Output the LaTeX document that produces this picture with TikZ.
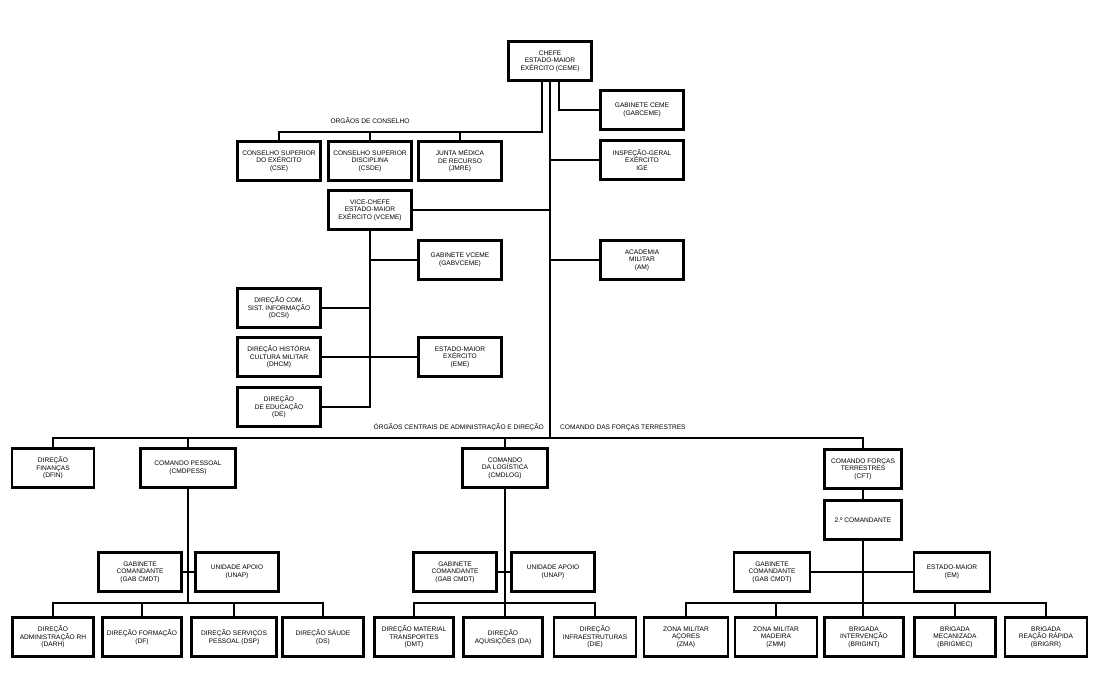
\documentclass[tikz,border=0pt]{standalone}
\usepackage{fontspec}
\setmainfont{Liberation Sans}
\usetikzlibrary{positioning}
\tikzset{box/.style={draw, line width=2.3pt, align=center, inner sep=0pt,
    minimum width=83pt, minimum height=39pt, font=\fontsize{6.6}{7.6}\selectfont},
  link/.style={line width=2pt},
  lbl/.style={font=\fontsize{6.6}{7.6}\selectfont, inner sep=0pt}
}
\begin{document}
\begin{tikzpicture}[x=1pt,y=-1pt]
\useasboundingbox (0,0) rectangle (1100,685);
% Chefe
\node[box] (ceme) at (550,61) {CHEFE\\ESTADO-MAIOR\\EXÉRCITO (CEME)};
\node[box] (gabceme) at (642,110) {GABINETE CEME\\(GABCEME)};
\node[box] (ige) at (642,160) {INSPEÇÃO-GERAL\\EXÉRCITO\\IGE};
\node[box] (am) at (642,260) {ACADEMIA\\MILITAR\\(AM)};
% Orgaos de conselho
\node[box] (cse) at (279,161) {CONSELHO SUPERIOR\\DO EXÉRCITO\\(CSE)};
\node[box] (csde) at (370,161) {CONSELHO SUPERIOR\\DISCIPLINA\\(CSDE)};
\node[box] (jmre) at (460,161) {JUNTA MÉDICA\\DE RECURSO\\(JMRE)};
\node[lbl] (conslbl) at (370,121) {ORGÃOS DE CONSELHO};
% Vice-chefe
\node[box] (vceme) at (370,210) {VICE-CHEFE\\ESTADO-MAIOR\\EXÉRCITO (VCEME)};
\node[box] (gabvceme) at (460,260) {GABINETE VCEME\\(GABVCEME)};
\node[box] (dcsi) at (279,308) {DIREÇÃO COM.\\SIST. INFORMAÇÃO\\(DCSI)};
\node[box] (dhcm) at (279,357) {DIREÇÃO HISTÓRIA\\CULTURA MILITAR\\(DHCM)};
\node[box] (eme) at (460,357) {ESTADO-MAIOR\\EXÉRCITO\\(EME)};
\node[box] (de) at (279,407) {DIREÇÃO\\DE EDUCAÇÃO\\(DE)};
\node[lbl, anchor=base east] (ocadlbl) at (544,429) {ÓRGÃOS CENTRAIS DE ADMINISTRAÇÃO E DIREÇÃO};
\node[lbl, anchor=base west] (cftlbl) at (560,429) {COMANDO DAS FORÇAS TERRESTRES};
% Nivel intermedio
\node[box, minimum width=82pt] (dfin) at (53,468) {DIREÇÃO\\FINANÇAS\\(DFIN)};
\node[box, minimum width=95pt] (cmdpess) at (188,468) {COMANDO PESSOAL\\(CMDPESS)};
\node[box, minimum width=85pt] (cmdlog) at (505,468) {COMANDO\\DA LOGÍSTICA\\(CMDLOG)};
\node[box, minimum width=77pt] (cft) at (863,469) {COMANDO FORÇAS\\TERRESTRES\\(CFT)};
\node[box, minimum width=77pt] (cmdt2) at (863,520) {2.º COMANDANTE};
% Gabinetes
\node[box] (gabpess) at (140,572) {GABINETE\\COMANDANTE\\(GAB CMDT)};
\node[box] (unappess) at (237,572) {UNIDADE APOIO\\(UNAP)};
\node[box] (gablog) at (455,572) {GABINETE\\COMANDANTE\\(GAB CMDT)};
\node[box] (unaplog) at (553,572) {UNIDADE APOIO\\(UNAP)};
\node[box, minimum width=76pt] (gabcft) at (772,572) {GABINETE\\COMANDANTE\\(GAB CMDT)};
\node[box, minimum width=76pt] (emcft) at (952,572) {ESTADO-MAIOR\\(EM)};
% Fila inferior
\node[box, minimum width=81pt] (darh) at (53,637) {DIREÇÃO\\ADMINISTRAÇÃO RH\\(DARH)};
\node[box, minimum width=79pt] (df) at (142,637) {DIREÇÃO FORMAÇÃO\\(DF)};
\node[box, minimum width=85pt] (dsp) at (234,637) {DIREÇÃO SERVIÇOS\\PESSOAL (DSP)};
\node[box, minimum width=81pt] (ds) at (323,637) {DIREÇÃO SÁUDE\\(DS)};
\node[box, minimum width=79pt] (dmt) at (414,637) {DIREÇÃO MATERIAL\\TRANSPORTES\\(DMT)};
\node[box, minimum width=79pt] (da) at (503,637) {DIREÇÃO\\AQUISIÇÕES (DA)};
\node[box, minimum width=82pt] (die) at (595,637) {DIREÇÃO\\INFRAESTRUTURAS\\(DIE)};
\node[box, minimum width=84pt] (zma) at (686,637) {ZONA MILITAR\\AÇORES\\(ZMA)};
\node[box, minimum width=82pt] (zmm) at (776,637) {ZONA MILITAR\\MADEIRA\\(ZMM)};
\node[box, minimum width=79pt] (brigint) at (864,637) {BRIGADA\\INTERVENÇÃO\\(BRIGINT)};
\node[box, minimum width=81pt] (brigmec) at (955,637) {BRIGADA\\MECANIZADA\\(BRIGMEC)};
\node[box, minimum width=82pt] (brigrr) at (1046,637) {BRIGADA\\REAÇÃO RÁPIDA\\(BRIGRR)};
% Pontos de ligacao
\coordinate (cons) at (542,132);
\coordinate (gabc) at (559,110);
\coordinate (trunk) at (550,438);
\coordinate (vtrunk) at (370,407);
\coordinate (pess) at (188,603);
\coordinate (logi) at (505,603);
\coordinate (terr) at (863,603);
% Ligacoes CEME
\draw[link] (ceme.south -| cons) -- (cons) -| (cse.north);
\draw[link] (csde.north) -- (csde.north |- cons);
\draw[link] (jmre.north) -- (jmre.north |- cons);
\draw[link] (ceme.south -| gabc) -- (gabc) -- (gabceme.west);
\draw[link] (ceme.south) -- (trunk);
\draw[link] (ige.west) -- (ige.west -| trunk);
\draw[link] (am.west) -- (am.west -| trunk);
\draw[link] (vceme.east) -- (vceme.east -| trunk);
% Ligacoes VCEME
\draw[link] (vceme.south) -- (vtrunk) -- (de.east);
\draw[link] (gabvceme.west) -- (gabvceme.west -| vtrunk);
\draw[link] (dcsi.east) -- (dcsi.east -| vtrunk);
\draw[link] (dhcm.east) -- (eme.west);
% Ligacao horizontal principal
\draw[link] (dfin.north) |- (trunk) -| (cft.north);
\draw[link] (cmdpess.north) -- (cmdpess.north |- trunk);
\draw[link] (cmdlog.north) -- (cmdlog.north |- trunk);
% Comando pessoal
\draw[link] (cmdpess.south) -- (pess);
\draw[link] (gabpess.east) -- (unappess.west);
\draw[link] (darh.north) |- (pess) -| (ds.north);
\draw[link] (df.north) -- (df.north |- pess);
\draw[link] (dsp.north) -- (dsp.north |- pess);
% Comando logistica
\draw[link] (cmdlog.south) -- (da.north -| logi);
\draw[link] (gablog.east) -- (unaplog.west);
\draw[link] (dmt.north) |- (logi) -| (die.north);
% Comando forcas terrestres
\draw[link] (cft.south) -- (cmdt2.north);
\draw[link] (cmdt2.south) -- (brigint.north -| terr);
\draw[link] (gabcft.east) -- (emcft.west);
\draw[link] (zma.north) |- (terr) -| (brigrr.north);
\draw[link] (zmm.north) -- (zmm.north |- terr);
\draw[link] (brigmec.north) -- (brigmec.north |- terr);
\end{tikzpicture}
\end{document}
